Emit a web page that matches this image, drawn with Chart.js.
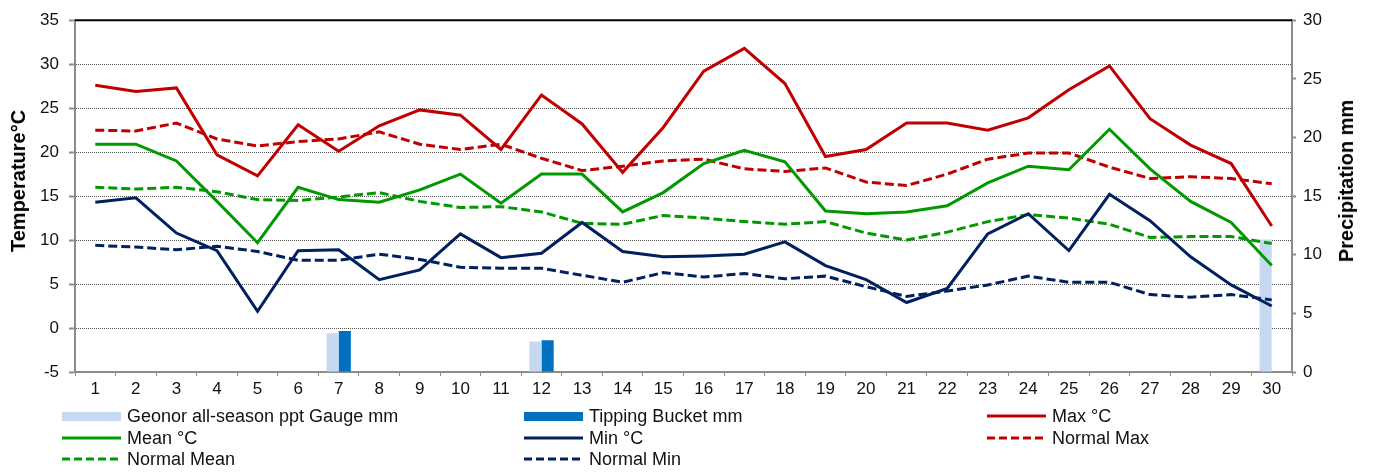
<!DOCTYPE html>
<html>
<head>
<meta charset="utf-8">
<script src="https://cdn.jsdelivr.net/npm/chart.js@4/dist/chart.umd.min.js"></script>
<style>
  html, body { margin: 0; padding: 0; background: #fff; }
  #wrap { position: relative; width: 1377px; height: 475px; overflow: hidden; }
  #c { position: absolute; left: 0; top: 0; }
  .lg { position: absolute; height: 22px; font-family: "Liberation Sans", Arial, sans-serif; font-size: 18px; color: #111; white-space: nowrap; }
  .lg svg { position: absolute; left: 0; top: 0; }
  .lg span { position: absolute; top: 0px; line-height: 22px; }
  .ttl { position: absolute; font-family: "Liberation Sans", Arial, sans-serif; font-size: 20px; font-weight: bold; color: #000; white-space: nowrap; line-height: 24px; transform: translate(-50%, -50%) rotate(-90deg); }
</style>
</head>
<body>
<div id="wrap">
  <canvas id="c" width="1377" height="475"></canvas>
  <div class="ttl" style="left:18px; top:181px;">Temperature°C</div>
  <div class="ttl" style="left:1346px; top:181px;">Precipitation mm</div>
  <div id="legend"></div>
</div>
<script>
// ---- data ----
const days = ['1','2','3','4','5','6','7','8','9','10','11','12','13','14','15','16','17','18','19','20','21','22','23','24','25','26','27','28','29','30'];
const geonorPpt = [0,0,0,0,0,0,3.3,0,0,0,0,2.6,0,0,0,0,0,0,0,0,0,0,0,0,0,0,0,0,0,11.3];
const tippingPpt = [0,0,0,0,0,0,3.5,0,0,0,0,2.7,0,0,0,0,0,0,0,0,0,0,0,0,0,0,0,0,0,0];
const maxT = [27.6,26.9,27.3,19.7,17.3,23.1,20.1,23.0,24.8,24.2,20.3,26.5,23.2,17.7,22.8,29.2,31.8,27.8,19.5,20.3,23.3,23.3,22.5,23.9,27.1,29.8,23.8,20.8,18.7,11.6];
const meanT = [20.9,20.9,19.0,14.4,9.7,16.0,14.6,14.3,15.7,17.5,14.2,17.5,17.5,13.2,15.4,18.7,20.2,18.9,13.3,13.0,13.2,13.9,16.5,18.4,18.0,22.6,18.1,14.4,12.0,7.1];
const minT = [14.3,14.8,10.8,8.8,1.9,8.8,8.9,5.5,6.6,10.7,8.0,8.5,12.0,8.7,8.1,8.2,8.4,9.8,7.1,5.5,2.9,4.5,10.7,13.0,8.8,15.2,12.2,8.1,4.9,2.5];
const normMax = [22.5,22.4,23.3,21.5,20.7,21.2,21.5,22.3,20.9,20.3,20.9,19.3,17.9,18.4,19.0,19.2,18.1,17.8,18.2,16.6,16.2,17.5,19.2,19.9,19.9,18.3,17.0,17.2,17.0,16.4];
const normMean = [16.0,15.8,16.0,15.5,14.6,14.5,14.9,15.4,14.4,13.7,13.8,13.2,11.9,11.8,12.8,12.5,12.1,11.8,12.1,10.8,10.0,10.9,12.1,12.9,12.5,11.8,10.3,10.4,10.4,9.6];
const normMin = [9.4,9.2,8.9,9.3,8.7,7.7,7.7,8.4,7.8,6.9,6.8,6.8,6.0,5.2,6.3,5.8,6.2,5.6,5.9,4.7,3.6,4.2,4.9,5.9,5.2,5.2,3.8,3.5,3.8,3.2];

const C_MAX = '#C00000', C_MEAN = '#009900', C_MIN = '#002060';
const C_GEO = '#C6D9F1', C_TIP = '#0070C0';
const DASH = [9, 4];
const FONT = "'Liberation Sans', Arial, sans-serif";

function lineDs(label, data, color, dashed) {
  return {
    type: 'line', label, data, borderColor: color, backgroundColor: color,
    borderWidth: 3, borderDash: dashed ? DASH : [], pointRadius: 0, tension: 0,
    yAxisID: 'y', order: 1, fill: false
  };
}

const topLine = {
  id: 'topLine',
  afterDraw(chart) {
    const {ctx, chartArea: a} = chart;
    ctx.save();
    ctx.strokeStyle = '#000';
    ctx.lineWidth = 2;
    ctx.beginPath();
    ctx.moveTo(a.left, a.top);
    ctx.lineTo(a.right, a.top);
    ctx.stroke();
    ctx.restore();
  }
};

new Chart(document.getElementById('c'), {
  type: 'bar',
  data: {
    labels: days,
    datasets: [
      { type: 'bar', label: 'Geonor all-season ppt Gauge mm', data: geonorPpt, backgroundColor: C_GEO, yAxisID: 'y2', order: 10, categoryPercentage: 0.6, barPercentage: 1.0 },
      { type: 'bar', label: 'Tipping Bucket mm', data: tippingPpt, backgroundColor: C_TIP, yAxisID: 'y2', order: 10, categoryPercentage: 0.6, barPercentage: 1.0 },
      lineDs('Max °C', maxT, C_MAX, false),
      lineDs('Mean °C', meanT, C_MEAN, false),
      lineDs('Min °C', minT, C_MIN, false),
      lineDs('Normal Max', normMax, C_MAX, true),
      lineDs('Normal Mean', normMean, C_MEAN, true),
      lineDs('Normal Min', normMin, C_MIN, true)
    ]
  },
  options: {
    responsive: false,
    animation: false,
    layout: { padding: { top: 14, left: 0, right: 0, bottom: 0 } },
    plugins: { legend: { display: false }, tooltip: { enabled: false } },
    scales: {
      x: {
        offset: true,
        grid: { display: true, drawOnChartArea: false, drawTicks: true, tickLength: 4, color: '#8c8c8c', offset: true },
        border: { color: '#8c8c8c', width: 2 },
        ticks: { color: '#111', font: { family: FONT, size: 17 }, padding: 3, maxRotation: 0, autoSkip: false },
        afterFit(s) { s.height = 103; }
      },
      y: {
        position: 'left', min: -5, max: 35,
        ticks: { stepSize: 5, color: '#111', font: { family: FONT, size: 17 }, padding: 10 },
        grid: { color: '#555', lineWidth: 1, tickColor: '#8c8c8c', tickLength: 6, tickWidth: 2 },
        border: { color: '#8c8c8c', width: 2, dash: [1, 1] },
        title: { display: false },
        afterFit(s) { s.width = 75; }
      },
      y2: {
        position: 'right', min: 0, max: 30,
        ticks: { stepSize: 5, color: '#111', font: { family: FONT, size: 17 }, padding: 7 },
        grid: { drawOnChartArea: false, tickColor: '#8c8c8c', tickLength: 4, tickWidth: 2 },
        border: { color: '#8c8c8c', width: 2 },
        title: { display: false },
        afterFit(s) { s.width = 85; }
      }
    }
  },
  plugins: [topLine]
});

// ---- HTML legend ----
const legendItems = [
  { text: 'Geonor all-season ppt Gauge mm', kind: 'bar', color: C_GEO, x: 62, y: 405 },
  { text: 'Tipping Bucket mm', kind: 'bar', color: C_TIP, x: 524, y: 405 },
  { text: 'Max °C', kind: 'line', color: C_MAX, x: 987, y: 405 },
  { text: 'Mean °C', kind: 'line', color: C_MEAN, x: 62, y: 427 },
  { text: 'Min °C', kind: 'line', color: C_MIN, x: 524, y: 427 },
  { text: 'Normal Max', kind: 'dash', color: C_MAX, x: 987, y: 427 },
  { text: 'Normal Mean', kind: 'dash', color: C_MEAN, x: 62, y: 448 },
  { text: 'Normal Min', kind: 'dash', color: C_MIN, x: 524, y: 448 }
];
const lg = document.getElementById('legend');
legendItems.forEach(it => {
  const d = document.createElement('div');
  d.className = 'lg';
  d.style.left = it.x + 'px';
  d.style.top = it.y + 'px';
  let sw;
  if (it.kind === 'bar') {
    sw = `<svg width="60" height="22"><rect x="0" y="7" width="59" height="9" fill="${it.color}"/></svg>`;
  } else if (it.kind === 'line') {
    sw = `<svg width="60" height="22"><line x1="0" y1="11" x2="59" y2="11" stroke="${it.color}" stroke-width="3"/></svg>`;
  } else {
    sw = `<svg width="60" height="22"><line x1="0" y1="11" x2="59" y2="11" stroke="${it.color}" stroke-width="3" stroke-dasharray="8,4"/></svg>`;
  }
  d.innerHTML = sw + `<span style="left:65px">${it.text}</span>`;
  lg.appendChild(d);
});
</script>
</body>
</html>
